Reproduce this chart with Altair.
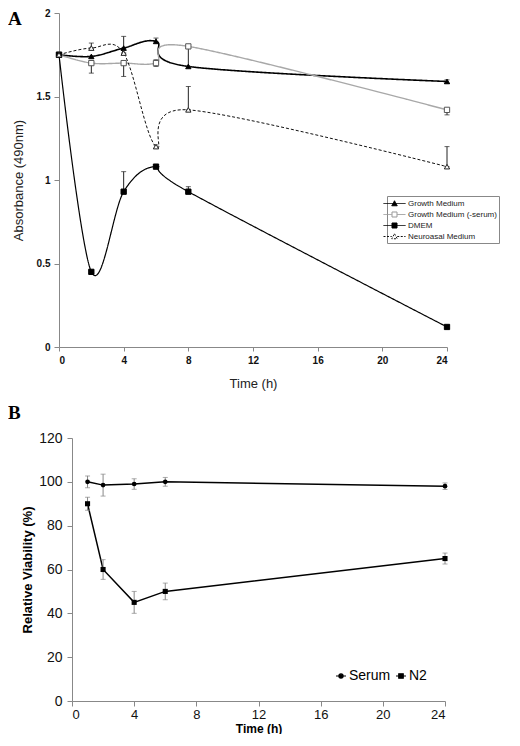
import altair as alt
import pandas as pd

# ---------------- Panel A data ----------------
time_a = [0, 2, 4, 6, 8, 24]
series_a = ["Growth Medium", "Growth Medium (-serum)", "DMEM", "Neuroasal Medium"]

growth = [1.75, 1.74, 1.79, 1.83, 1.68, 1.59]
growth_up = [0, 0, 0.07, 0.02, 0, 0.01]
growth_dn = [0, 0, 0, 0, 0, 0.01]

noserum = [1.75, 1.70, 1.70, 1.70, 1.80, 1.42]
noserum_up = [0, 0, 0, 0.02, 0, 0]
noserum_dn = [0, 0.06, 0.08, 0.02, 0.12, 0.03]

dmem = [1.75, 0.45, 0.93, 1.08, 0.93, 0.12]
dmem_up = [0, 0.01, 0.12, 0.01, 0.03, 0.01]
dmem_dn = [0, 0.01, 0, 0.01, 0, 0.01]

neuro = [1.75, 1.79, 1.76, 1.20, 1.42, 1.08]
neuro_up = [0, 0.03, 0, 0.01, 0.14, 0.12]
neuro_dn = [0, 0, 0, 0.01, 0, 0]

ticks_a_x = [0, 4, 8, 12, 16, 20, 24]
ticks_a_y = [0, 0.5, 1, 1.5, 2]

# ---------------- Panel B data ----------------
time_b = [1, 2, 4, 6, 24]
series_b = ["Serum", "N2"]
serum = [100, 98.5, 99, 100, 98]
serum_err = [2.7, 5, 2.4, 2, 1.5]
n2 = [90, 60, 45, 50, 65]
n2_err = [3, 4.5, 5, 3.8, 2.5]

ticks_b_x = [0, 4, 8, 12, 16, 20, 24]
ticks_b_y = [0, 20, 40, 60, 80, 100, 120]

# ---------------- tables ----------------
rows = []
for name, vals, up, dn in zip(series_a, [growth, noserum, dmem, neuro],
                              [growth_up, noserum_up, dmem_up, neuro_up],
                              [growth_dn, noserum_dn, dmem_dn, neuro_dn]):
    for t, v, u, d in zip(time_a, vals, up, dn):
        rows.append({"series": name, "time": t, "value": v,
                     "lo": round(v - d, 4), "hi": round(v + u, 4)})
df_a = pd.DataFrame(rows)

rows = []
for name, vals, err in zip(series_b, [serum, n2], [serum_err, n2_err]):
    for t, v, e in zip(time_b, vals, err):
        rows.append({"series": name, "time": t, "value": v,
                     "lo": v - e, "hi": v + e})
df_b = pd.DataFrame(rows)

SANS = "Liberation Sans"
SERIF = "Liberation Serif"

# Panel A sits 13px further left than panel B in the figure: its x scale
# starts 13px left of the shared column origin and its y axis follows it.
A_SHIFT = 13
A_WIDTH = 375

# ---------------- Panel A ----------------
axis_ax = alt.Axis(values=ticks_a_x, title="Time (h)", grid=False,
                   labelFont=SANS, labelFontSize=10, labelFontWeight="bold",
                   labelColor="#111", tickColor="#888", domainColor="#888",
                   tickSize=4, labelPadding=4, titleFont=SANS, titleFontSize=13,
                   titleFontWeight="normal", titleColor="#222", titlePadding=12)
axis_ay = alt.Axis(values=ticks_a_y, format="~g", title="Absorbance (490nm)", grid=False,
                   offset=A_SHIFT,
                   labelFont=SANS, labelFontSize=10, labelFontWeight="bold",
                   labelColor="#111", tickColor="#888", domainColor="#888",
                   tickSize=5, labelPadding=4, titleFont=SANS, titleFontSize=13,
                   titleFontWeight="normal", titleColor="#222", titlePadding=11)


def xa(field="time"):
    return alt.X(f"{field}:Q",
                 scale=alt.Scale(domain=[0, 24], range=[-A_SHIFT, A_WIDTH], nice=False, zero=False),
                 axis=axis_ax)


def ya(field="value"):
    return alt.Y(f"{field}:Q", scale=alt.Scale(domain=[0, 2], nice=False), axis=axis_ay)


base_a = alt.Chart(df_a)

lines_a = base_a.mark_line(interpolate="cardinal").encode(
    x=xa(), y=ya(),
    stroke=alt.Stroke("series:N", scale=alt.Scale(domain=series_a,
                      range=["#000000", "#a8a8a8", "#000000", "#111111"]), legend=None),
    strokeDash=alt.StrokeDash("series:N", scale=alt.Scale(domain=series_a,
                              range=[[1, 0], [1, 0], [1, 0], [3, 2]]), legend=None),
    strokeWidth=alt.StrokeWidth("series:N", scale=alt.Scale(domain=series_a,
                                range=[1.6, 1.0, 1.4, 1.0]), legend=None),
)

err_a = base_a.mark_rule(color="#222", strokeWidth=1).encode(x=xa(), y=ya("lo"), y2="hi:Q")
cap_lo_a = base_a.mark_tick(color="#222", size=5, thickness=1, orient="horizontal").encode(x=xa(), y=ya("lo"))
cap_hi_a = base_a.mark_tick(color="#222", size=5, thickness=1, orient="horizontal").encode(x=xa(), y=ya("hi"))

pts_a = base_a.mark_point(size=28, strokeWidth=1, opacity=1).encode(
    x=xa(), y=ya(),
    shape=alt.Shape("series:N", scale=alt.Scale(domain=series_a,
                    range=["triangle-up", "square", "square", "triangle-up"]), legend=None),
    fill=alt.Fill("series:N", scale=alt.Scale(domain=series_a,
                  range=["#000000", "#ffffff", "#000000", "#ffffff"]), legend=None),
    stroke=alt.Stroke("series:N", scale=alt.Scale(domain=series_a,
                      range=["#000000", "#555555", "#000000", "#222222"]), legend=None),
)

tri = "M0,-0.55L0.55,0.45H-0.55Z"
sq = "M-0.5,-0.5H0.5V0.5H-0.5Z"
full = "M-2.2,0H2.2"
gap = "M-2.2,0H-0.55M0.55,0H2.2"
leg_paths_a = [full + tri, gap + sq, full + sq, gap + tri]

leg_a = alt.Legend(title=None, orient="none", legendX=315, legendY=183, direction="vertical",
                   symbolSize=100, symbolStrokeWidth=1, symbolOpacity=1,
                   labelFont=SANS, labelFontSize=8, labelColor="#222", labelOffset=8,
                   rowPadding=1, padding=2, strokeColor="#888", fillColor="white")

legend_layer_a = base_a.mark_point(opacity=0).encode(
    x=xa(), y=ya(),
    shape=alt.Shape("series:N", scale=alt.Scale(domain=series_a, range=leg_paths_a), legend=leg_a),
    fill=alt.Fill("series:N", scale=alt.Scale(domain=series_a,
                  range=["#000000", "#ffffff", "#000000", "#ffffff"]), legend=leg_a),
    stroke=alt.Stroke("series:N", scale=alt.Scale(domain=series_a,
                      range=["#000000", "#999999", "#000000", "#111111"]), legend=leg_a),
    strokeDash=alt.StrokeDash("series:N", scale=alt.Scale(domain=series_a,
                              range=[[1, 0], [1, 0], [1, 0], [2, 1.5]]), legend=leg_a),
)

chart_a = alt.layer(lines_a, err_a, cap_lo_a, cap_hi_a, pts_a, legend_layer_a).resolve_scale(
    shape="independent", fill="independent", stroke="independent",
    strokeDash="independent", strokeWidth="independent"
).properties(
    width=A_WIDTH, height=334,
    title=alt.TitleParams(text="A", anchor="start", frame="group", dx=-64, dy=36, offset=0,
                          baseline="alphabetic", font=SERIF, fontSize=19, fontWeight="bold",
                          color="#000")
)

# ---------------- Panel B ----------------
axis_bx = alt.Axis(values=ticks_b_x, title="Time (h)", grid=False,
                   labelFont=SANS, labelFontSize=13, labelFontWeight="normal",
                   labelColor="#111", tickColor="#888", domainColor="#888",
                   tickSize=5, labelPadding=2, titleFont=SANS, titleFontSize=12,
                   titleFontWeight="bold", titleColor="#000", titlePadding=2)
axis_by = alt.Axis(values=ticks_b_y, title="Relative Viability (%)", grid=False,
                   labelFont=SANS, labelFontSize=14, labelFontWeight="normal",
                   labelColor="#111", tickColor="#888", domainColor="#888",
                   tickSize=5, labelPadding=5, titleFont=SANS, titleFontSize=13,
                   titleFontWeight="bold", titleColor="#000", titlePadding=4)


def xb(field="time"):
    return alt.X(f"{field}:Q", scale=alt.Scale(domain=[0, 24], nice=False, zero=False), axis=axis_bx)


def yb(field="value"):
    return alt.Y(f"{field}:Q", scale=alt.Scale(domain=[0, 120], nice=False), axis=axis_by)


base_b = alt.Chart(df_b)

lines_b = base_b.mark_line(color="#000", strokeWidth=1.5).encode(x=xb(), y=yb(), detail="series:N")
err_b = base_b.mark_rule(color="#888", strokeWidth=1).encode(x=xb(), y=yb("lo"), y2="hi:Q")
cap_lo_b = base_b.mark_tick(color="#888", size=5, thickness=1, orient="horizontal").encode(x=xb(), y=yb("lo"))
cap_hi_b = base_b.mark_tick(color="#888", size=5, thickness=1, orient="horizontal").encode(x=xb(), y=yb("hi"))

pts_b = base_b.mark_point(filled=True, opacity=1, color="#000").encode(
    x=xb(), y=yb(),
    shape=alt.Shape("series:N", scale=alt.Scale(domain=series_b, range=["circle", "square"]), legend=None),
    size=alt.Size("series:N", scale=alt.Scale(domain=series_b, range=[22, 26]), legend=None),
)

circ = "M0.42,0A0.42,0.42 0 1,1 -0.42,0A0.42,0.42 0 1,1 0.42,0Z"
sq_b = "M-0.45,-0.45H0.45V0.45H-0.45Z"
line_b = "M-1,0H1"
leg_b = alt.Legend(title=None, orient="none", legendX=262, legendY=231, direction="horizontal",
                   symbolSize=100, symbolStrokeWidth=1.2, symbolOpacity=1,
                   labelFont=SANS, labelFontSize=14, labelColor="#000", labelOffset=1,
                   columnPadding=2, padding=0)

legend_layer_b = base_b.mark_point(opacity=0).encode(
    x=xb(), y=yb(),
    shape=alt.Shape("series:N", scale=alt.Scale(domain=series_b, range=[line_b + circ, line_b + sq_b]),
                    legend=leg_b),
    fill=alt.Fill("series:N", scale=alt.Scale(domain=series_b, range=["#000000", "#000000"]), legend=leg_b),
    stroke=alt.Stroke("series:N", scale=alt.Scale(domain=series_b, range=["#000000", "#000000"]), legend=leg_b),
)

chart_b = alt.layer(lines_b, err_b, cap_lo_b, cap_hi_b, pts_b, legend_layer_b).resolve_scale(
    shape="independent", fill="independent", stroke="independent", size="independent"
).properties(
    width=373, height=263,
    title=alt.TitleParams(text="B", anchor="start", frame="group", dx=-64, dy=7, offset=0,
                          baseline="alphabetic", font=SERIF, fontSize=19, fontWeight="bold",
                          color="#000")
)

chart = alt.vconcat(chart_a, chart_b, spacing=14).properties(
    padding={"left": 0, "top": 0, "right": 0, "bottom": 0},
    background="white"
).configure_view(stroke=None, strokeWidth=0)

chart.save("out.html", embed_options={"renderer": "svg", "actions": False})
